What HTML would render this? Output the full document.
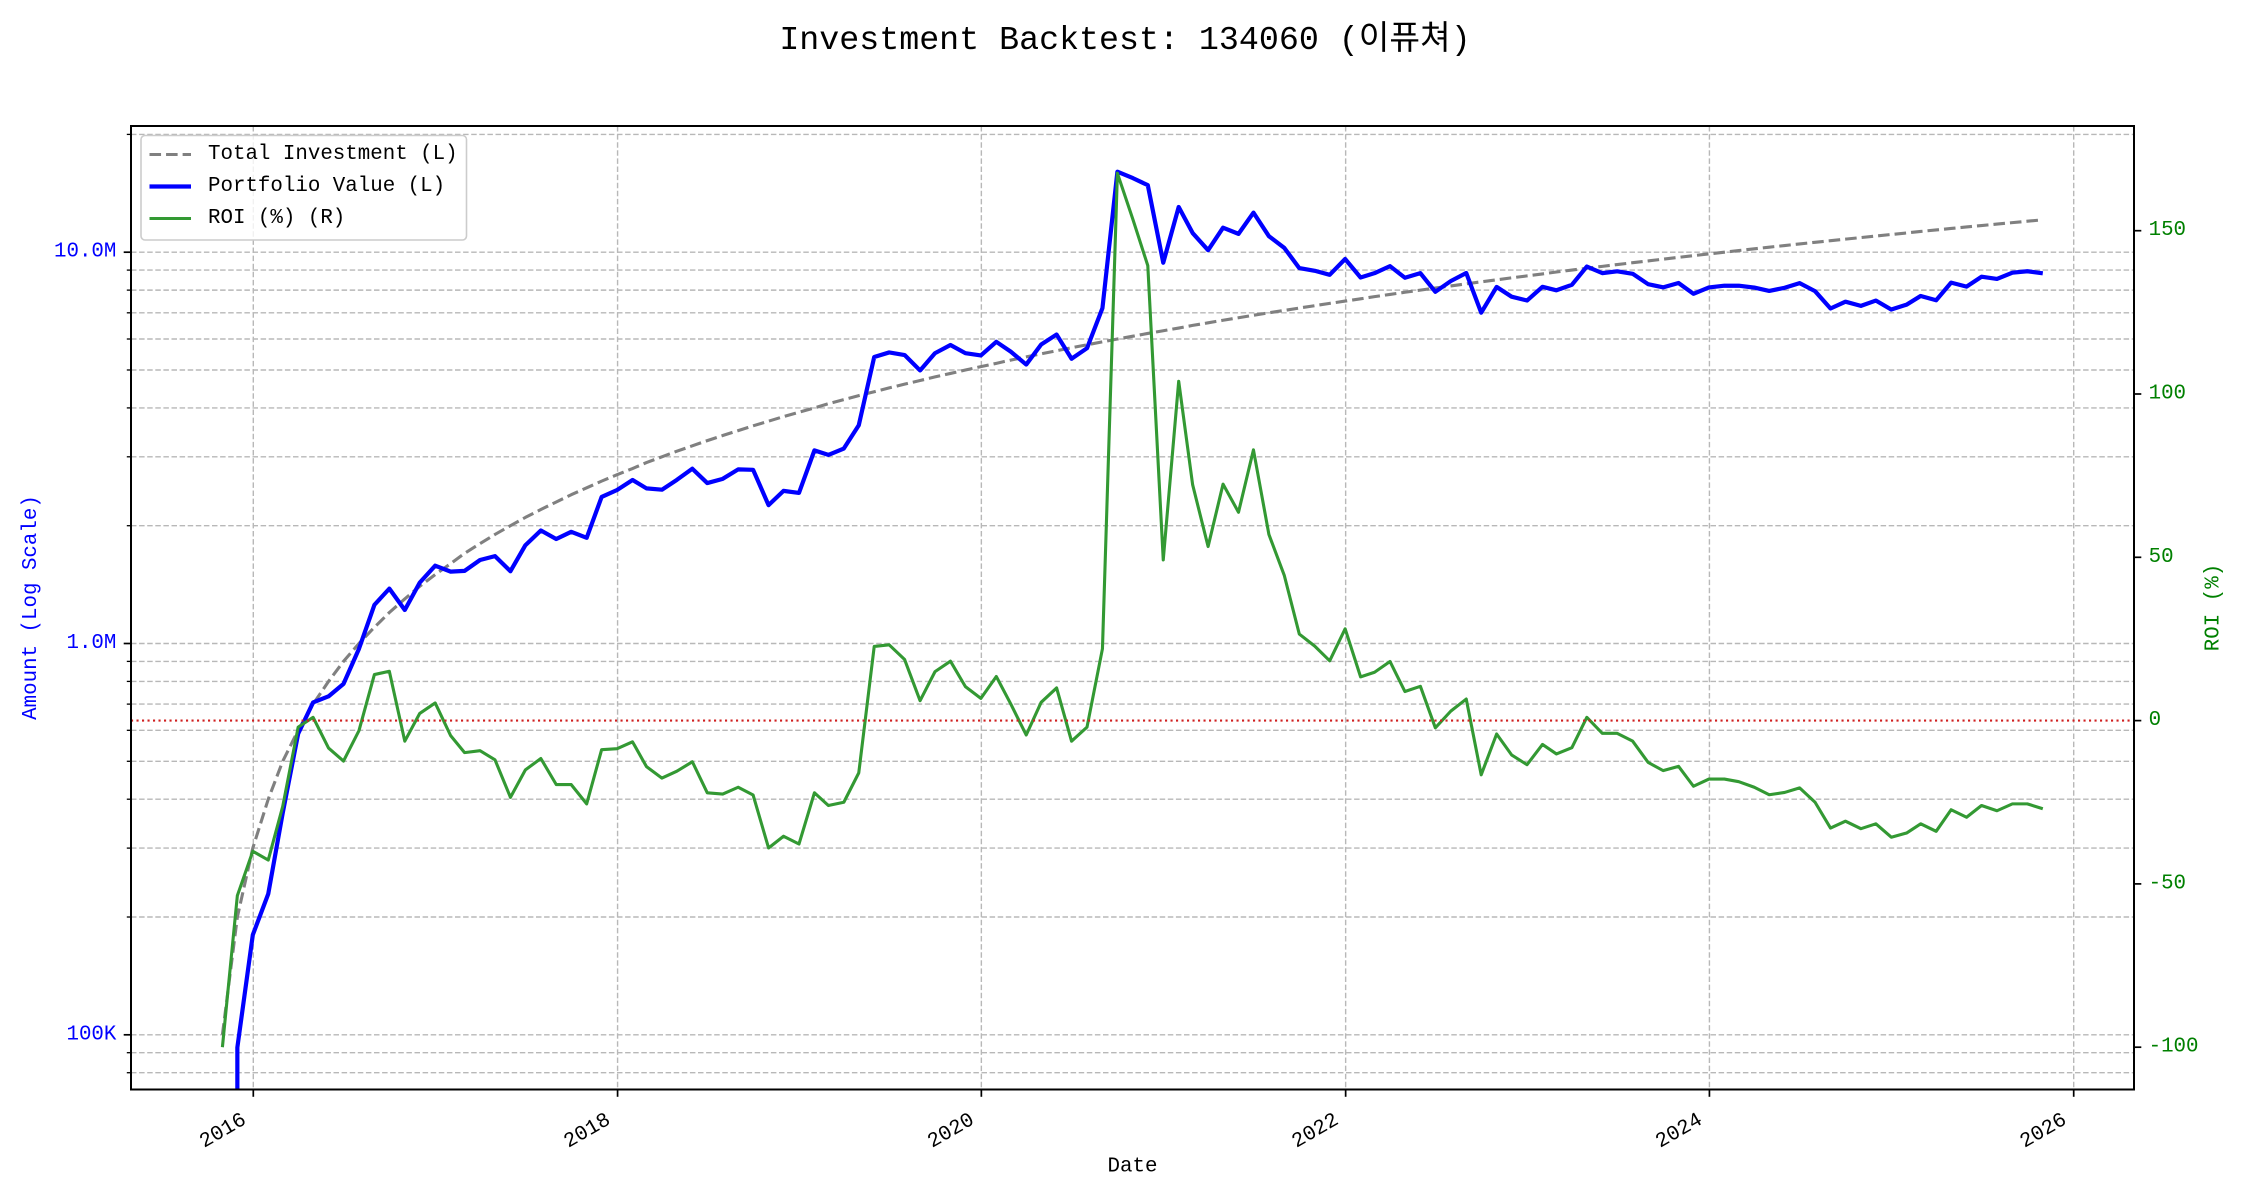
<!DOCTYPE html>
<html><head><meta charset="utf-8">
<style>
html,body{margin:0;padding:0;background:#fff;width:2250px;height:1200px;overflow:hidden;}
svg{display:block;font-family:"Liberation Mono","Noto Sans CJK KR",monospace;}
.g{stroke:#b8b8b8;stroke-width:1.4;stroke-dasharray:5.5 2.6;fill:none;}
.t{font-size:20.8px;}
</style></head>
<body>
<svg id="c" xmlns="http://www.w3.org/2000/svg" width="2250" height="1200" viewBox="0 0 2250 1200" overflow="hidden">
<rect x="0" y="0" width="2250" height="1200" fill="#fff"/>
<defs><clipPath id="cp"><rect x="131" y="126" width="2003" height="963.5"/></clipPath></defs>
<g id="dyn"></g>
<text x="1125" y="49" text-anchor="middle" font-size="33.3" fill="#000">Investment Backtest: 134060 (이퓨쳐)</text>
<text class="t" x="116.4" y="252.2" text-anchor="end" dominant-baseline="central" fill="#0000ff">10.0M</text>
<text class="t" x="116.4" y="643.5" text-anchor="end" dominant-baseline="central" fill="#0000ff">1.0M</text>
<text class="t" x="116.4" y="1034.8" text-anchor="end" dominant-baseline="central" fill="#0000ff">100K</text>
<text class="t" x="2148.6" y="230.7" dominant-baseline="central" fill="#008000">150</text>
<text class="t" x="2148.6" y="394.0" dominant-baseline="central" fill="#008000">100</text>
<text class="t" x="2148.6" y="557.3" dominant-baseline="central" fill="#008000">50</text>
<text class="t" x="2148.6" y="720.6" dominant-baseline="central" fill="#008000">0</text>
<text class="t" x="2148.6" y="883.9" dominant-baseline="central" fill="#008000">-50</text>
<text class="t" x="2148.6" y="1047.2" dominant-baseline="central" fill="#008000">-100</text>
<text class="t" x="31.6" y="607.5" text-anchor="middle" dominant-baseline="central" fill="#0000ff" transform="rotate(-90 31.6 607.5)">Amount (Log Scale)</text>
<text class="t" x="2214" y="607.5" text-anchor="middle" dominant-baseline="central" fill="#008000" transform="rotate(-90 2214 607.5)">ROI (%)</text>
<text class="t" x="1132.5" y="1167" text-anchor="middle" dominant-baseline="central" fill="#000">Date</text>
<g id="xl"></g>
<g id="leg">
<rect x="141" y="135.5" width="325.5" height="104.5" rx="4" ry="4" fill="#fff" fill-opacity="0.8" stroke="#cccccc" stroke-width="1.6"/>
<line x1="149.5" y1="154.5" x2="191" y2="154.5" stroke="#808080" stroke-width="3.1" stroke-dasharray="11.56 5"/>
<line x1="149.5" y1="186.5" x2="191" y2="186.5" stroke="#0000ff" stroke-width="4.2"/>
<line x1="149.5" y1="218.5" x2="191" y2="218.5" stroke="#339933" stroke-width="3.1"/>
<text class="t" x="208" y="154.5" dominant-baseline="central" fill="#000">Total Investment (L)</text>
<text class="t" x="208" y="186.5" dominant-baseline="central" fill="#000">Portfolio Value (L)</text>
<text class="t" x="208" y="218.5" dominant-baseline="central" fill="#000">ROI (%) (R)</text>
</g>
</svg>
<script>
(function(){
const roi=[-100,-53.6,-40.0,-42.7,-26.3,-2.0,1.0,-8.4,-12.4,-3.1,14.1,15.1,-6.3,2.2,5.4,-4.6,-9.8,-9.2,-12.0,-23.5,
-15.1,-11.6,-19.6,-19.6,-25.5,-8.9,-8.6,-6.5,-14.1,-17.6,-15.5,-12.6,-22.1,-22.5,-20.4,-22.8,-39.0,-35.4,-37.8,-22.1,
-26.0,-25.0,-16.0,22.7,23.2,18.7,6.1,15.0,18.2,10.4,6.8,13.5,5.1,-4.4,5.6,10.0,-6.3,-2.0,22.0,167.6,
153.5,139.3,49.2,103.9,72.2,53.3,72.4,63.8,82.9,57.0,44.4,26.5,22.8,18.3,28.1,13.4,14.8,18.1,8.9,10.5,
-2.2,2.9,6.6,-16.6,-4.1,-10.5,-13.5,-7.3,-10.2,-8.3,1.0,-3.9,-3.9,-6.3,-12.8,-15.3,-14.0,-20.1,-17.9,-17.9,
-18.7,-20.4,-22.7,-22.0,-20.6,-25.0,-32.9,-30.8,-33.1,-31.6,-35.7,-34.4,-31.6,-33.9,-27.3,-29.6,-26.0,-27.6,-25.5,-25.5,-27.0];
const L=131,R=2134,T=126,B=1089.5;
const base=Date.UTC(2016,0,1);
function xd(t){return 253.3+(t-base)/86400000*0.49833;}
function xm(m){return xd(Date.UTC(2015,10+m,0));}
function yl(v){return 643.5-391.3*(Math.log10(v)-6);}
function yr(r){return 720.6-3.266*r;}
let s='';
const gv=[];
for(const d of [1e4,1e5,1e6,1e7]){for(let k=1;k<=9;k++){const v=k*d;const y=yl(v);if(y>T+0.5&&y<B-0.5)gv.push(v);}}
gv.forEach(v=>{const y=yl(v).toFixed(2);s+=`<line class="g" x1="${L}" x2="${R}" y1="${y}" y2="${y}"/>`;});
const yrs=[2016,2018,2020,2022,2024,2026];
const yx=yrs.map(y=>xd(Date.UTC(y,0,1)));
yx.forEach(x=>{s+=`<line class="g" x1="${x.toFixed(2)}" x2="${x.toFixed(2)}" y1="${T}" y2="${B}"/>`;});
let pi='',pv='',pr='';
for(let m=0;m<roi.length;m++){
  const x=xm(m).toFixed(2);
  const I=100000*(m+1);
  pi+=(m?'L':'M')+x+' '+yl(I).toFixed(2)+' ';
  pr+=(m?'L':'M')+x+' '+yr(roi[m]).toFixed(2)+' ';
  if(m>=1){
    const V=I*(1+roi[m]/100);
    if(m===1) pv+='M'+x+' 1095 ';
    pv+='L'+x+' '+yl(V).toFixed(2)+' ';
  }
}
s+=`<g clip-path="url(#cp)">`;
s+=`<path d="${pi}" fill="none" stroke="#808080" stroke-width="3.1" stroke-dasharray="11.56 5" stroke-linejoin="round"/>`;
s+=`<path d="${pv}" fill="none" stroke="#0000ff" stroke-width="4.2" stroke-linejoin="round"/>`;
s+=`<path d="${pr}" fill="none" stroke="#339933" stroke-width="3.1" stroke-linejoin="round"/>`;
s+=`<line x1="${L}" x2="${R}" y1="720.6" y2="720.6" stroke="#d02020" stroke-width="2.1" stroke-dasharray="2.1 3.4"/>`;
s+=`</g>`;
s+=`<rect x="${L}" y="${T}" width="${R-L}" height="${B-T}" fill="none" stroke="#000" stroke-width="2"/>`;
gv.forEach(v=>{const y=yl(v).toFixed(2);const major=[1e5,1e6,1e7].includes(v);const len=major?7.3:4.2;
  s+=`<line x1="${L}" x2="${L-len}" y1="${y}" y2="${y}" stroke="#000" stroke-width="${major?1.7:1.3}"/>`;});
[-100,-50,0,50,100,150].forEach(r=>{const y=yr(r).toFixed(2);s+=`<line x1="${R}" x2="${R+7.3}" y1="${y}" y2="${y}" stroke="#000" stroke-width="1.7"/>`;});
yx.forEach(x=>{s+=`<line x1="${x.toFixed(2)}" x2="${x.toFixed(2)}" y1="${B}" y2="${B+7.3}" stroke="#000" stroke-width="1.7"/>`;});
document.getElementById('dyn').innerHTML=s;
let t='';
yrs.forEach((y,i)=>{const px=(yx[i]-6).toFixed(2),py=1123;
  t+=`<text class="t" x="${px}" y="${py}" text-anchor="end" fill="#000" transform="rotate(-30 ${px} ${py})">${y}</text>`;});
document.getElementById('xl').innerHTML=t;
})();
</script>
</body></html>
